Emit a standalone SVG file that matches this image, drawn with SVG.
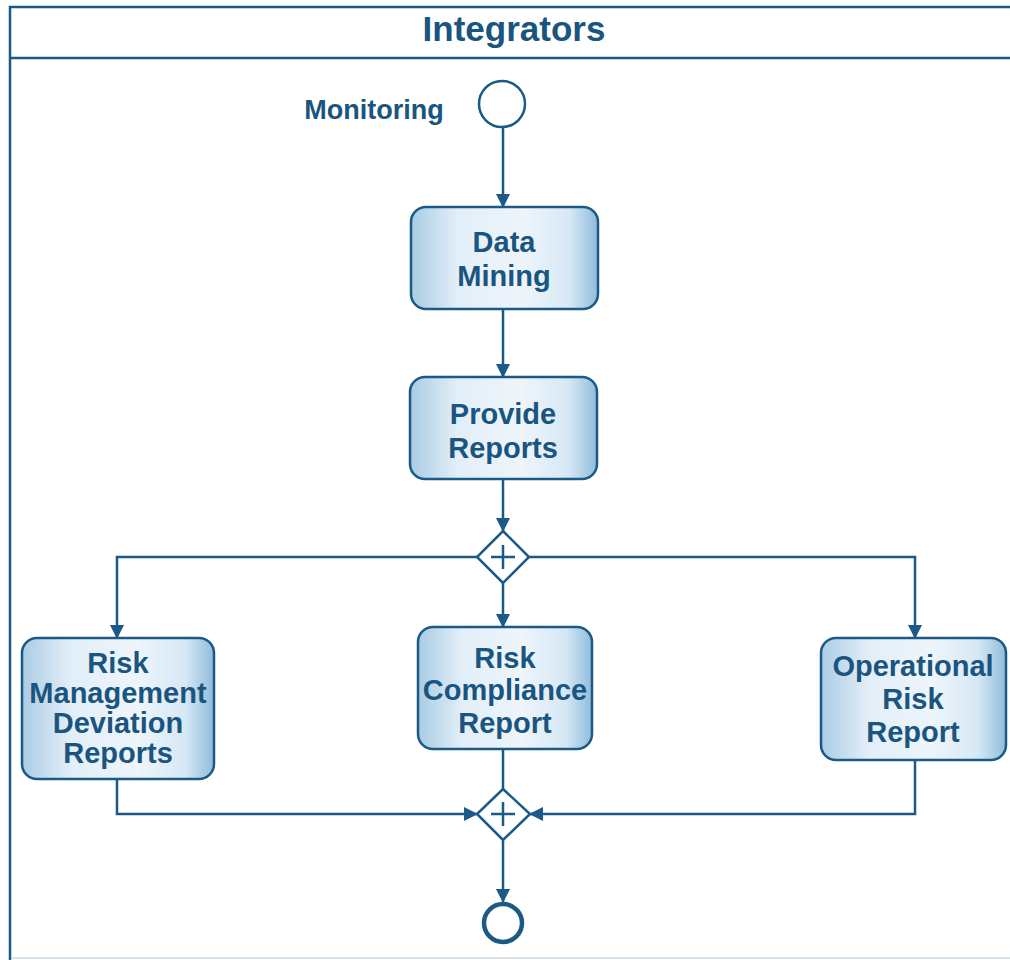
<svg xmlns="http://www.w3.org/2000/svg" width="1010" height="960" viewBox="0 0 1010 960">
<defs>
<linearGradient id="boxg" x1="0" y1="0" x2="1" y2="0">
<stop offset="0" stop-color="#a9cce4"/>
<stop offset="0.25" stop-color="#e2eef8"/>
<stop offset="0.6" stop-color="#eef5fb"/>
<stop offset="0.85" stop-color="#d6e8f5"/>
<stop offset="1" stop-color="#8fbcdb"/>
</linearGradient>
<marker id="arr" markerWidth="14" markerHeight="14" refX="13" refY="7" orient="auto" markerUnits="userSpaceOnUse">
<path d="M0,0 L14,7 L0,14 Z" fill="#1b5a86"/>
</marker>
<style>
.box{fill:url(#boxg);stroke:#1b5a86;stroke-width:2.5}
.lbl{font-family:"Liberation Sans",Arial,sans-serif;font-weight:bold;font-size:29px;fill:#1a5580;text-anchor:middle}
.con{fill:none;stroke:#1b5a86;stroke-width:2.5}
.gw{fill:#fff;stroke:#1b5a86;stroke-width:2.5}
</style>
</defs>
<rect width="1010" height="960" fill="#fff"/>
<g id="pool">
<rect x="10" y="7" width="1010" height="960" fill="none" stroke="#1b5a86" stroke-width="2.5"/>
<line x1="10" y1="58" x2="1010" y2="58" stroke="#1b5a86" stroke-width="2.5"/>
<line x1="11" y1="958" x2="1010" y2="958" stroke="#c9d9e6" stroke-width="1.5"/>
<text x="514" y="41" class="lbl" style="font-size:35px">Integrators</text>
</g>
<g id="connectors">
<path class="con" d="M503,127 L503,207" marker-end="url(#arr)"/>
<path class="con" d="M503,309 L503,377" marker-end="url(#arr)"/>
<path class="con" d="M503,479 L503,531" marker-end="url(#arr)"/>
<path class="con" d="M477,557 L117,557 L117,638" marker-end="url(#arr)"/>
<path class="con" d="M529,557 L915,557 L915,638" marker-end="url(#arr)"/>
<path class="con" d="M503,583 L503,627" marker-end="url(#arr)"/>
<path class="con" d="M503,749 L503,789"/>
<path class="con" d="M117,779 L117,814 L477,814" marker-end="url(#arr)"/>
<path class="con" d="M915,760 L915,814 L530,814" marker-end="url(#arr)"/>
<path class="con" d="M503,840 L503,902" marker-end="url(#arr)"/>
</g>
<g id="start">
<circle cx="502" cy="104" r="23" fill="#fff" stroke="#1b5a86" stroke-width="2.5"/>
<text x="374" y="119" class="lbl" style="font-size:27px">Monitoring</text>
</g>
<g id="data-mining">
<rect class="box" x="411" y="207" width="187" height="102" rx="15"/>
<text class="lbl" x="504" y="252">Data</text>
<text class="lbl" x="504" y="286">Mining</text>
</g>
<g id="provide-reports">
<rect class="box" x="410" y="377" width="187" height="102" rx="15"/>
<text class="lbl" x="503" y="424">Provide</text>
<text class="lbl" x="503" y="458">Reports</text>
</g>
<g id="gateway1">
<path class="gw" d="M503,531 L529,557 L503,583 L477,557 Z"/>
<path d="M491,557 L515,557 M503,545 L503,569" stroke="#1b5a86" stroke-width="2.5"/>
</g>
<g id="risk-management">
<rect class="box" x="22" y="638" width="192" height="141" rx="15"/>
<text class="lbl" x="118" y="673">Risk</text>
<text class="lbl" x="118" y="703">Management</text>
<text class="lbl" x="118" y="733">Deviation</text>
<text class="lbl" x="118" y="763">Reports</text>
</g>
<g id="risk-compliance">
<rect class="box" x="418" y="627" width="174" height="122" rx="15"/>
<text class="lbl" x="505" y="668">Risk</text>
<text class="lbl" x="505" y="700">Compliance</text>
<text class="lbl" x="505" y="733">Report</text>
</g>
<g id="operational-risk">
<rect class="box" x="821" y="638" width="185" height="122" rx="15"/>
<text class="lbl" x="913" y="676">Operational</text>
<text class="lbl" x="913" y="709">Risk</text>
<text class="lbl" x="913" y="742">Report</text>
</g>
<g id="gateway2">
<path class="gw" d="M503,789 L530,814 L503,840 L477,814 Z"/>
<path d="M491,814 L515,814 M503,802 L503,826" stroke="#1b5a86" stroke-width="2.5"/>
</g>
<g id="end">
<circle cx="503" cy="923" r="19" fill="#fff" stroke="#1b5a86" stroke-width="4.5"/>
</g>
</svg>
